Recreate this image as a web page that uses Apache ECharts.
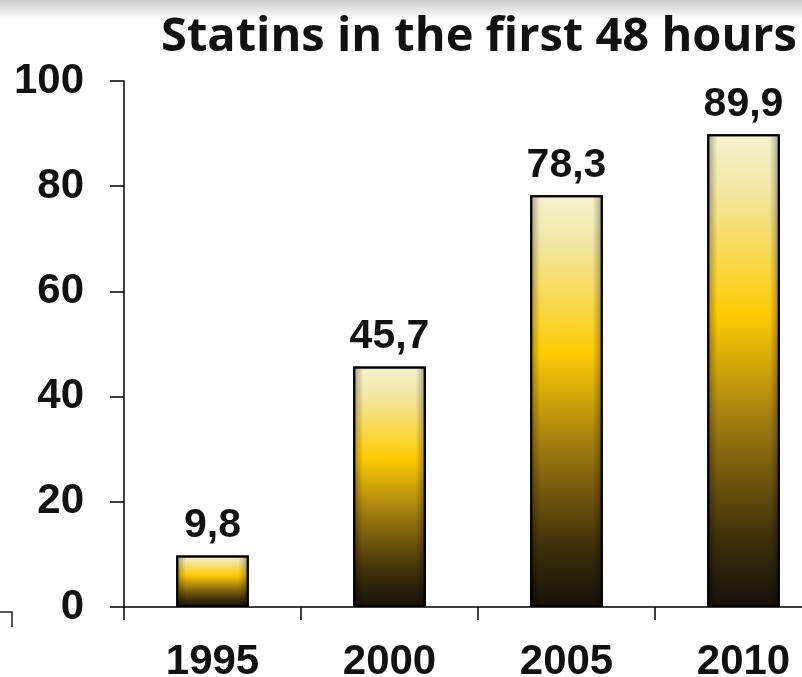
<!DOCTYPE html>
<html>
<head>
<meta charset="utf-8">
<script src="https://cdn.jsdelivr.net/npm/echarts@6/dist/echarts.min.js"></script>
<style>
  html, body { margin: 0; padding: 0; background: #ffffff; }
  #chart { width: 802px; height: 677px; }
</style>
</head>
<body>
<div id="chart"></div>
<script>
// Share of patients given statins within the first 48 hours, by survey year
const years = ['1995', '2000', '2005', '2010'];
const statinRates = [9.8, 45.7, 78.3, 89.9];
const yTicks = [0, 20, 40, 60, 80, 100];

const titleText = 'Statins in the first 48 hours';

const chart = echarts.init(document.getElementById('chart'), null, { renderer: 'canvas' });

const goldFill = new echarts.graphic.LinearGradient(0, 0, 0, 1, [
  { offset: 0, color: '#f6f2cf' },
  { offset: 0.12, color: '#f2e7a2' },
  { offset: 0.38, color: '#ffcb05' },
  { offset: 0.62, color: '#9c7810' },
  { offset: 0.85, color: '#40310a' },
  { offset: 1, color: '#15100a' }
]);

// darker vertical edges give the bars a rounded, cylinder-like look
const edgeShade = new echarts.graphic.LinearGradient(0, 0, 1, 0, [
  { offset: 0, color: 'rgba(0,0,0,0.35)' },
  { offset: 0.14, color: 'rgba(0,0,0,0)' },
  { offset: 0.86, color: 'rgba(0,0,0,0)' },
  { offset: 1, color: 'rgba(0,0,0,0.35)' }
]);

const option = {
  backgroundColor: '#ffffff',
  animation: false,
  title: {
    text: titleText,
    left: 474,
    top: 9,
    textAlign: 'center',
    textStyle: {
      fontFamily: 'Open Sans',
      fontWeight: 'bold',
      fontSize: 47,
      color: '#111111'
    }
  },
  grid: {
    left: 124,
    top: 81,
    width: 708,
    height: 526,
    containLabel: false,
    outerBoundsMode: 'none'
  },
  xAxis: {
    type: 'category',
    data: years,
    axisLine: { lineStyle: { color: '#000000', width: 1.5 } },
    axisTick: { show: true, length: 13, alignWithLabel: false, lineStyle: { color: '#000000', width: 1.5 } },
    axisLabel: {
      margin: 34,
      fontFamily: 'Liberation Sans',
      fontWeight: 'bold',
      fontSize: 42,
      color: '#111111'
    },
    splitLine: { show: false }
  },
  yAxis: {
    type: 'value',
    min: yTicks[0],
    max: yTicks[yTicks.length - 1],
    interval: yTicks[1] - yTicks[0],
    axisLine: { show: true, lineStyle: { color: '#000000', width: 1.5 } },
    axisTick: { show: true, length: 14, lineStyle: { color: '#000000', width: 1.5 } },
    axisLabel: {
      margin: 40,
      fontFamily: 'Liberation Sans',
      fontWeight: 'bold',
      fontSize: 42,
      color: '#111111'
    },
    splitLine: { show: false }
  },
  series: [
    {
      type: 'bar',
      data: statinRates,
      barWidth: '41%',
      itemStyle: {
        color: goldFill,
        borderColor: '#000000',
        borderWidth: 2
      },
      label: {
        show: true,
        position: 'top',
        distance: 9,
        fontFamily: 'Liberation Sans',
        fontWeight: 'bold',
        fontSize: 41,
        color: '#111111',
        formatter: p => String(p.value).replace('.', ',')
      },
      z: 2
    },
    {
      type: 'bar',
      data: statinRates,
      barWidth: '41%',
      barGap: '-100%',
      silent: true,
      itemStyle: {
        color: edgeShade,
        borderColor: '#000000',
        borderWidth: 2
      },
      z: 3
    }
  ],
  graphic: [
    {
      type: 'rect',
      left: 0,
      top: 0,
      shape: { width: 802, height: 20 },
      style: {
        fill: new echarts.graphic.LinearGradient(0, 0, 0, 1, [
          { offset: 0, color: '#cccccc' },
          { offset: 1, color: '#ffffff' }
        ])
      },
      z: -1
    },
    {
      type: 'polyline',
      shape: { points: [[0, 612], [12, 612], [12, 627]] },
      style: { stroke: '#222222', lineWidth: 1.5, fill: null }
    }
  ]
};

chart.setOption(option);
</script>
</body>
</html>
